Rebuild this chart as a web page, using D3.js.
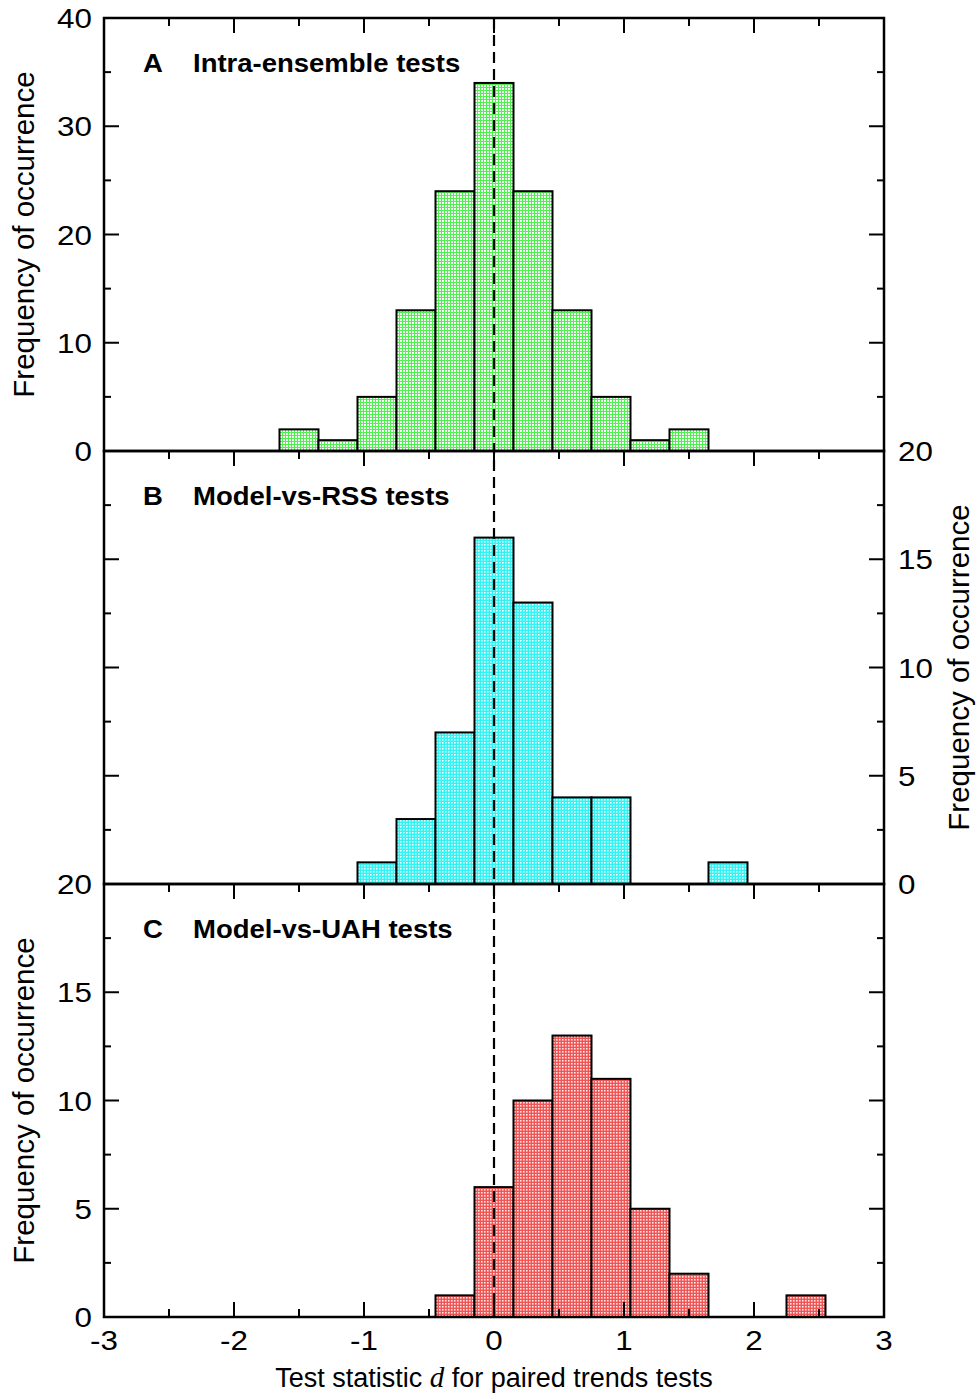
<!DOCTYPE html>
<html>
<head>
<meta charset="utf-8">
<script src="https://cdn.jsdelivr.net/npm/d3@7"></script>
<style>
  body { margin: 0; background: #fff; }
  svg text { font-family: "Liberation Sans", Arial, sans-serif; fill: #000; }
</style>
</head>
<body>
<div id="chart"></div>
<script>
// Histogram data (bin width 0.3, bins centred on multiples of 0.3)
const binWidth = 0.3;

const binsA = [-1.5, -1.2, -0.9, -0.6, -0.3, 0, 0.3, 0.6, 0.9, 1.2, 1.5];
const countsA = [2, 1, 5, 13, 24, 34, 24, 13, 5, 1, 2];

const binsB = [-0.9, -0.6, -0.3, 0, 0.3, 0.6, 0.9, 1.8];
const countsB = [1, 3, 7, 16, 13, 4, 4, 1];

const binsC = [-0.3, 0, 0.3, 0.6, 0.9, 1.2, 1.5, 2.4];
const countsC = [1, 6, 10, 13, 11, 5, 2, 1];

const xTicks = [-3, -2, -1, 0, 1, 2, 3];
const titles = ["Intra-ensemble tests", "Model-vs-RSS tests", "Model-vs-UAH tests"];
const letters = ["A", "B", "C"];
const yTitle = "Frequency of occurrence";

// Setup
const width = 977;
const height = 1395;
const left = 104, right = 884;
const panelTops = [18, 451, 884];
const panelH = 433;

const svg = d3.select("#chart")
    .append("svg")
    .attr("width", width)
    .attr("height", height);

// fill patterns (stippled look of the original)
const defs = svg.append("defs");
function makePattern(id, base, dot, size) {
    const p = defs.append("pattern")
        .attr("id", id)
        .attr("width", 3)
        .attr("height", 3)
        .attr("patternUnits", "userSpaceOnUse");
    p.append("rect").attr("width", 3).attr("height", 3).attr("fill", base);
    p.append("rect").attr("x", 1).attr("y", 1).attr("width", size).attr("height", size).attr("fill", dot);
}
makePattern("patA", "#50f050", "#f6fff6", 2);
makePattern("patB", "#30f4f4", "#e6ffff", 1.6);
makePattern("patC", "#f05555", "#ffe4e4", 1.6);

const x = d3.scaleLinear().domain([-3, 3]).range([left, right]);

const panels = [
    { bins: binsA, counts: countsA, max: 40, major: 10, minor: 5, fill: "url(#patA)",
      leftLabels: [0, 10, 20, 30, 40], rightLabels: [], titleSide: "left" },
    { bins: binsB, counts: countsB, max: 20, major: 5, minor: 2.5, fill: "url(#patB)",
      leftLabels: [], rightLabels: [0, 5, 10, 15, 20], titleSide: "right" },
    { bins: binsC, counts: countsC, max: 20, major: 5, minor: 2.5, fill: "url(#patC)",
      leftLabels: [0, 5, 10, 15, 20], rightLabels: [], titleSide: "left" }
];

const tickFont = 28;
const sx = 1.12; // the original's lettering is a bit wider than Arial

function label(sel, xx, yy, anchor) {
    // horizontally stretched text placed at (xx, yy)
    return sel.append("text")
        .attr("transform", `translate(${xx},${yy}) scale(${sx},1)`)
        .attr("text-anchor", anchor)
        .attr("font-size", tickFont);
}

panels.forEach((p, i) => {
    const top = panelTops[i];
    const bottom = top + panelH;
    const y = d3.scaleLinear().domain([0, p.max]).range([bottom, top]);
    const g = svg.append("g");

    // bars
    g.selectAll("rect.bar")
        .data(p.bins.map((b, j) => ({ c: b, n: p.counts[j] })))
        .join("rect")
        .attr("class", "bar")
        .attr("x", d => x(d.c - binWidth / 2))
        .attr("width", d => x(d.c + binWidth / 2) - x(d.c - binWidth / 2))
        .attr("y", d => y(d.n))
        .attr("height", d => y(0) - y(d.n))
        .attr("fill", p.fill)
        .attr("stroke", "#000")
        .attr("stroke-width", 2);

    // x ticks on top edge pointing down
    const xMinor = d3.range(-3, 3.01, 0.5);
    g.selectAll("line.xt")
        .data(xMinor)
        .join("line")
        .attr("x1", d => x(d)).attr("x2", d => x(d))
        .attr("y1", top)
        .attr("y2", d => top + (Number.isInteger(d) ? 15 : 8))
        .attr("stroke", "#000").attr("stroke-width", 2);

    // bottom panel also has ticks pointing up
    if (i === 2) {
        g.selectAll("line.xb")
            .data(xMinor)
            .join("line")
            .attr("x1", d => x(d)).attr("x2", d => x(d))
            .attr("y1", bottom)
            .attr("y2", d => bottom - (Number.isInteger(d) ? 15 : 8))
            .attr("stroke", "#000").attr("stroke-width", 2);
    }

    // y ticks, both sides, inward
    const yt = d3.range(0, p.max + 0.001, p.minor);
    [left, right].forEach(xx => {
        const dir = xx === left ? 1 : -1;
        g.selectAll(null)
            .data(yt)
            .join("line")
            .attr("x1", xx)
            .attr("x2", d => xx + dir * ((d % p.major === 0) ? 15 : 7))
            .attr("y1", d => y(d)).attr("y2", d => y(d))
            .attr("stroke", "#000").attr("stroke-width", 2);
    });

    // tick labels
    p.leftLabels.forEach(d => {
        label(g, left - 12, y(d), "end").attr("dy", "0.36em").text(d);
    });
    p.rightLabels.forEach(d => {
        label(g, right + 14, y(d), "start").attr("dy", "0.36em").text(d);
    });

    // frame
    g.append("rect")
        .attr("x", left).attr("y", top)
        .attr("width", right - left).attr("height", panelH)
        .attr("fill", "none")
        .attr("stroke", "#000").attr("stroke-width", 2.5);

    // panel title
    g.append("text")
        .attr("transform", `translate(143,${top + 54}) scale(1.1,1)`)
        .attr("font-size", 25).attr("font-weight", "bold")
        .text(letters[i]);
    g.append("text")
        .attr("transform", `translate(193,${top + 54}) scale(1.1,1)`)
        .attr("font-size", 25).attr("font-weight", "bold")
        .text(titles[i]);

    // y axis title
    const tx = p.titleSide === "left" ? 34 : 969;
    g.append("text")
        .attr("transform", `translate(${tx},${(top + bottom) / 2}) rotate(-90)`)
        .attr("text-anchor", "middle")
        .attr("font-size", 29.5)
        .text(yTitle);
});

// x tick labels
xTicks.forEach(d => {
    label(svg, x(d), 1350, "middle").text(d);
});

// x axis title with italic d
const xt = svg.append("text")
    .attr("x", x(0))
    .attr("y", 1387)
    .attr("text-anchor", "middle")
    .attr("font-size", 27);
xt.append("tspan").text("Test statistic ");
xt.append("tspan")
    .attr("font-family", "'Liberation Serif', 'Times New Roman', serif")
    .attr("font-style", "italic")
    .attr("font-size", 29)
    .text("d");
xt.append("tspan").text(" for paired trends tests");

// dashed zero line across all panels
svg.append("line")
    .attr("x1", x(0)).attr("x2", x(0))
    .attr("y1", panelTops[0]).attr("y2", panelTops[2] + panelH)
    .attr("stroke", "#000")
    .attr("stroke-width", 2.2)
    .attr("stroke-dasharray", "11,6");
</script>
</body>
</html>
